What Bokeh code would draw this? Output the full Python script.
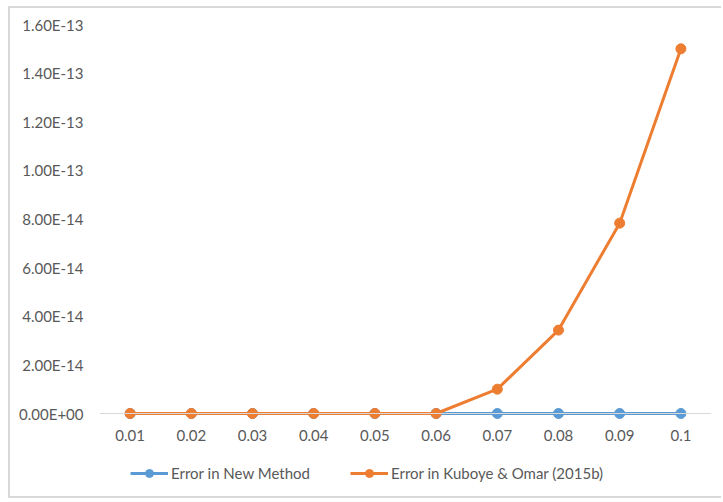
from bokeh.plotting import figure
from bokeh.models import Range1d, FixedTicker, Legend, LegendItem, Span
from bokeh.embed import file_html
from bokeh.resources import INLINE

categories = ["0.01", "0.02", "0.03", "0.04", "0.05", "0.06", "0.07", "0.08", "0.09", "0.1"]
new_method = [0, 0, 0, 0, 0, 0, 0, 0, 0, 0]
kuboye_omar = [0, 0, 0, 0, 0, 0, 1.0e-14, 3.43e-14, 7.83e-14, 1.50e-13]
y_ticks = [0, 2e-14, 4e-14, 6e-14, 8e-14, 1e-13, 1.2e-13, 1.4e-13, 1.6e-13]
y_tick_labels = ["0.00E+00", "2.00E-14", "4.00E-14", "6.00E-14", "8.00E-14",
                 "1.00E-13", "1.20E-13", "1.40E-13", "1.60E-13"]

# plot in units of 1e-14
UNIT = 1e-14
ys_new = [v / UNIT for v in new_method]
ys_ko = [v / UNIT for v in kuboye_omar]
ticks_scaled = [round(t / UNIT, 6) for t in y_ticks]

BLUE = "#5B9BD5"
ORANGE = "#ED7D31"
GRAY_TXT = "#595959"
FONT = "Lato"
FS = "15px"

# frame extends below zero so markers and legend are not clipped
p = figure(width=713, height=492, x_range=categories,
           y_range=Range1d(-3.249, ticks_scaled[-1]),
           output_backend="svg", toolbar_location=None,
           min_border_left=89, min_border_right=12, min_border_top=16, min_border_bottom=8,
           margin=(6, 0, 0, 8),
           styles={"border-left": "2px solid #d9d9d9", "border-top": "2px solid #d9d9d9",
                   "border-bottom": "2px solid #d9d9d9"})
p.outline_line_color = None
p.xgrid.grid_line_color = None
p.ygrid.grid_line_color = None
p.x_range.range_padding = 0
p.xaxis.visible = False

# category axis line at zero
p.add_layout(Span(location=0, dimension="width", line_color="#d9d9d9", line_width=1))

r1 = p.line(categories, ys_new, line_color=BLUE, line_width=3)
c1 = p.scatter(categories, ys_new, size=10, fill_color=BLUE, line_color=BLUE)
r2 = p.line(categories, ys_ko, line_color=ORANGE, line_width=3)
c2 = p.scatter(categories, ys_ko, size=10, fill_color=ORANGE, line_color=ORANGE)

# category tick labels
p.text(x=categories, y=[-0.905] * len(categories), text=categories,
       text_align="center", text_baseline="middle",
       text_font={"value": FONT}, text_font_size={"value": FS}, text_color=GRAY_TXT)

p.yaxis.ticker = FixedTicker(ticks=ticks_scaled)
p.yaxis.major_label_overrides = {t: l for t, l in zip(ticks_scaled, y_tick_labels)}
p.yaxis.axis_line_color = None
p.yaxis.major_tick_line_color = None
p.yaxis.minor_tick_line_color = None
p.yaxis.major_label_standoff = 10
p.yaxis.major_label_text_font = FONT
p.yaxis.major_label_text_font_size = FS
p.yaxis.major_label_text_color = GRAY_TXT

legend = Legend(items=[LegendItem(label="Error in New Method", renderers=[r1, c1]),
                       LegendItem(label="Error in Kuboye & Omar (2015b)", renderers=[r2, c2])],
                orientation="horizontal", location=(31, 9),
                label_text_font=FONT, label_text_font_size=FS, label_text_color=GRAY_TXT,
                glyph_width=38, glyph_height=20, label_standoff=3, spacing=40,
                border_line_color=None, background_fill_alpha=0, margin=0, padding=0)
p.add_layout(legend)

open("out.html", "w").write(file_html(p, INLINE))
